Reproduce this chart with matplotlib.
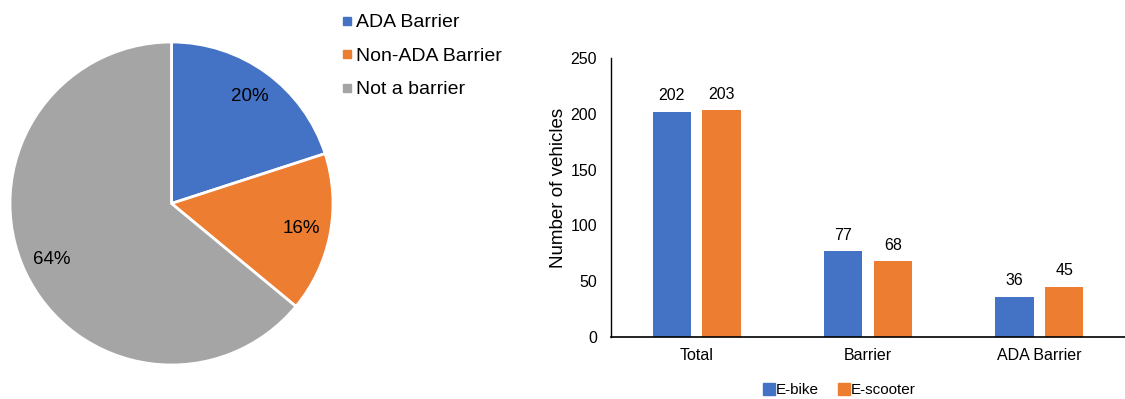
import matplotlib
matplotlib.use("Agg")
import matplotlib.pyplot as plt
from matplotlib.lines import Line2D
import numpy as np

plt.rcParams['font.family'] = ['Liberation Sans', 'DejaVu Sans']

pie_labels = ["ADA Barrier", "Non-ADA Barrier", "Not a barrier"]
pie_values = [20, 16, 64]
pie_colors = ["#4472C4", "#ED7D31", "#A5A5A5"]

categories = ["Total", "Barrier", "ADA Barrier"]
ebike = [202, 77, 36]
escooter = [203, 68, 45]
series_names = ["E-bike", "E-scooter"]
bar_colors = ["#4472C4", "#ED7D31"]

W, H = 1125, 399
fig = plt.figure(figsize=(W / 100, H / 100), dpi=100)

def px_axes(x0, y0, x1, y1):
    return fig.add_axes([x0 / W, 1 - y1 / H, (x1 - x0) / W, (y1 - y0) / H])

# Pie
axp = px_axes(10, 42, 333, 365)
wedges, texts, autotexts = axp.pie(
    pie_values, colors=pie_colors, startangle=90, counterclock=False,
    autopct='%1.0f%%', pctdistance=0.82,
    wedgeprops=dict(edgecolor='white', linewidth=2),
    textprops=dict(fontsize=13.5, color='black'))
axp.set_xlim(-1, 1)
axp.set_ylim(-1, 1)
axp.set_aspect('equal')
handles = [Line2D([], [], marker='s', linestyle='', color=c, markersize=6) for c in pie_colors]
fig.legend(handles, pie_labels, loc='upper left', bbox_to_anchor=(333 / W, 1 - 6 / H),
           frameon=False, fontsize=14, handlelength=0.6, handletextpad=0.2,
           labelspacing=0.82, borderaxespad=0)

# Bars
axb = px_axes(611, 58, 1125, 337)
x = np.arange(len(categories))
w = 0.225
off = 0.145
b1 = axb.bar(x - off, ebike, w, color=bar_colors[0], label=series_names[0])
b2 = axb.bar(x + off, escooter, w, color=bar_colors[1], label=series_names[1])
for bars in (b1, b2):
    axb.bar_label(bars, padding=6, fontsize=11.5)
axb.set_xlim(-0.5, 2.5)
axb.set_ylim(0, 250)
axb.set_yticks(range(0, 251, 50))
axb.set_xticks(x)
axb.set_xticklabels(categories)
axb.tick_params(axis='both', labelsize=11.5, length=0)
axb.tick_params(axis='x', pad=8)
axb.tick_params(axis='y', pad=10)
axb.spines['top'].set_visible(False)
axb.spines['right'].set_visible(False)
axb.spines['left'].set_color('black')
axb.spines['bottom'].set_color('black')
axb.spines['left'].set_linewidth(1)
axb.spines['bottom'].set_linewidth(1.2)
axb.set_ylabel("Number of vehicles", fontsize=13.5)
axb.yaxis.set_label_coords(-0.086, 0.535)
bh = [Line2D([], [], marker='s', linestyle='', color=c, markersize=8) for c in bar_colors]
fig.legend(bh, series_names, loc='center', bbox_to_anchor=(840 / W, 1 - 390 / H),
           ncol=2, frameon=False, fontsize=11, handlelength=0.6, handletextpad=0.15,
           columnspacing=1.3, borderaxespad=0)

fig.savefig("out.png", dpi=100, facecolor='white')
